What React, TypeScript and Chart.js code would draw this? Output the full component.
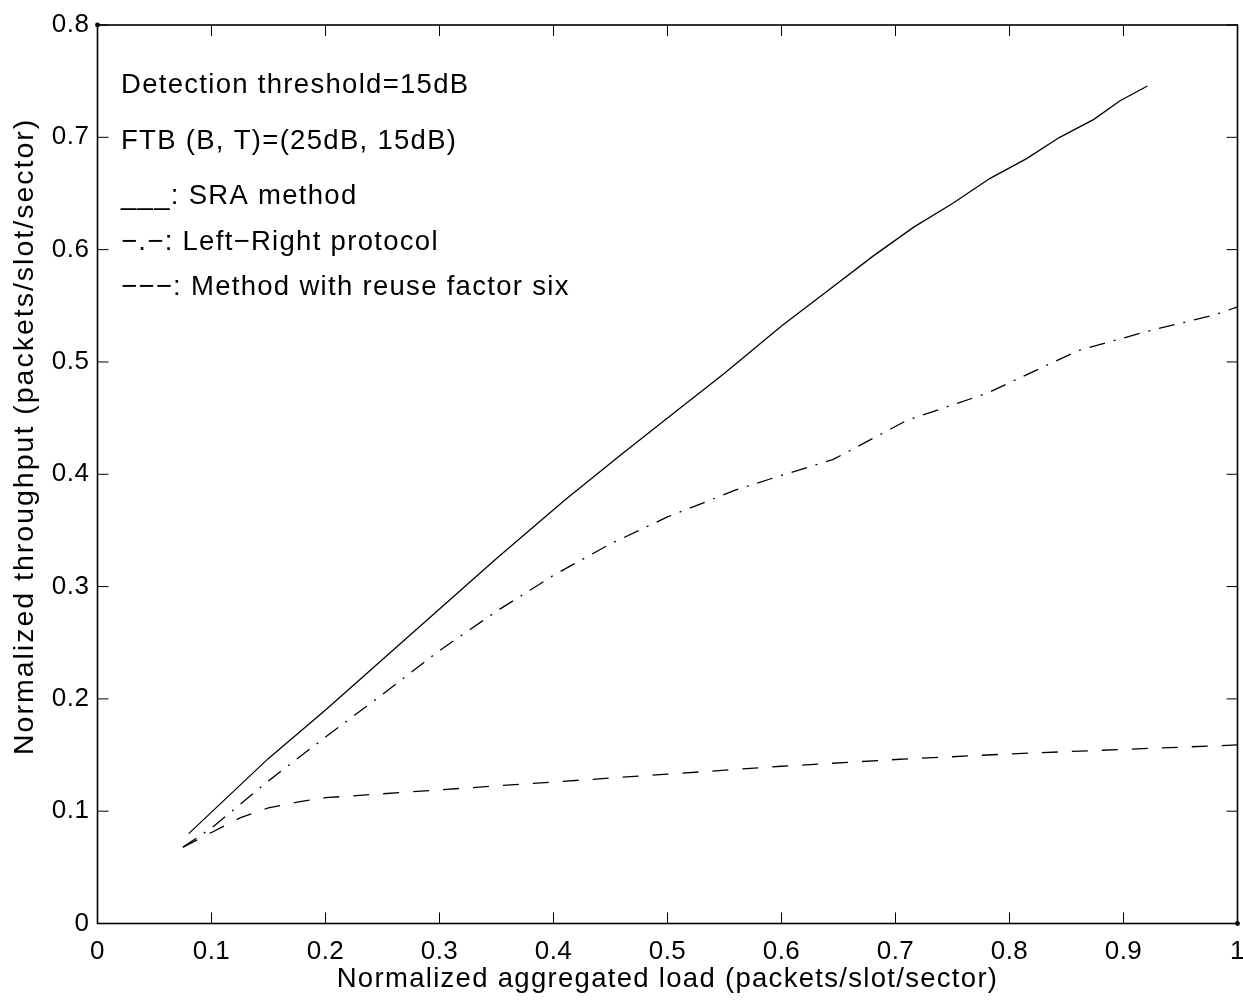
import React, { useEffect, useRef } from "react";
import { Chart, registerables } from "chart.js";

Chart.register(...registerables);

// ---------- data ----------
const xTickLabels = ["0", "0.1", "0.2", "0.3", "0.4", "0.5", "0.6", "0.7", "0.8", "0.9", "1"];
const yTickLabels = ["0", "0.1", "0.2", "0.3", "0.4", "0.5", "0.6", "0.7", "0.8"];

const xTitle = "Normalized aggregated load (packets/slot/sector)";
const yTitle = "Normalized throughput (packets/slot/sector)";

// SRA method (solid)
const sraX = [0.08, 0.15, 0.2, 0.25, 0.3, 0.35, 0.41, 0.46, 0.5, 0.55, 0.6, 0.64, 0.68, 0.716, 0.75, 0.783, 0.815, 0.844, 0.874, 0.897, 0.921];
const sraY = [0.08, 0.147, 0.19, 0.235, 0.28, 0.325, 0.377, 0.418, 0.45, 0.49, 0.532, 0.563, 0.594, 0.62, 0.641, 0.6635, 0.681, 0.7, 0.716, 0.7326, 0.7457];

// Left-Right protocol (dash-dot)
const lrX = [0.075, 0.1, 0.15, 0.2, 0.25, 0.3, 0.35, 0.4, 0.45, 0.5, 0.56, 0.6, 0.645, 0.71, 0.78, 0.86, 0.92, 0.98, 1.0];
const lrY = [0.068, 0.085, 0.127, 0.166, 0.204, 0.243, 0.278, 0.31, 0.338, 0.362, 0.386, 0.399, 0.413, 0.448, 0.472, 0.51, 0.527, 0.542, 0.549];

// Method with reuse factor six (dashed)
const reuseX = [0.075, 0.1, 0.125, 0.15, 0.175, 0.2, 0.3, 0.4, 0.5, 0.6, 0.7, 0.8, 0.9, 1.0];
const reuseY = [0.068, 0.081, 0.094, 0.103, 0.108, 0.112, 0.119, 0.126, 0.133, 0.14, 0.146, 0.151, 0.155, 0.159];

// in-plot text lines
const noteLines = [
  "Detection threshold=15dB",
  "FTB (B, T)=(25dB, 15dB)",
  "___: SRA method",
  "\u2212.\u2212: Left\u2212Right protocol",
  "\u2212\u2212\u2212: Method with reuse factor six",
];
const noteX = 0.0206;
const noteY = [0.7395, 0.6896, 0.6406, 0.5997, 0.5596];

// ---------- styling ----------
const FONT = "'Liberation Sans', Arial, Helvetica, sans-serif";
const W = 1243;
const H = 1002;
const SPACING = "1.3px";

const toPoints = (xs: number[], ys: number[]) => xs.map((x, i) => ({ x, y: ys[i] }));

const framePlugin = {
  id: "frame",
  beforeInit(chart: any) {
    chart.ctx.letterSpacing = "0.5px";
  },
  beforeDraw(chart: any) {
    const ctx = chart.ctx;
    ctx.letterSpacing = "0.5px";
    ctx.save();
    ctx.fillStyle = "#fff";
    ctx.fillRect(0, 0, chart.width, chart.height);
    ctx.restore();
  },
  beforeDatasetsDraw(chart: any) {
    chart.ctx.letterSpacing = SPACING;
  },
  afterDraw(chart: any) {
    const { ctx, chartArea } = chart;
    const { left, right, top, bottom } = chartArea;
    const xs = chart.scales.x;
    const ys = chart.scales.y;
    ctx.save();
    ctx.strokeStyle = "#000";
    ctx.fillStyle = "#000";
    // inward tick marks on all four sides
    ctx.lineWidth = 1;
    const tl = 11;
    ctx.beginPath();
    xs.ticks.forEach((t: any) => {
      const px = xs.getPixelForValue(t.value);
      ctx.moveTo(px, bottom);
      ctx.lineTo(px, bottom - tl);
      ctx.moveTo(px, top);
      ctx.lineTo(px, top + tl);
    });
    ys.ticks.forEach((t: any) => {
      const py = ys.getPixelForValue(t.value);
      ctx.moveTo(left, py);
      ctx.lineTo(left + tl, py);
      ctx.moveTo(right, py);
      ctx.lineTo(right - tl, py);
    });
    ctx.stroke();
    // box
    ctx.lineWidth = 1.6;
    ctx.strokeRect(left, top, right - left, bottom - top);
    // corner dots
    ctx.beginPath();
    ctx.arc(left, top, 2.4, 0, Math.PI * 2);
    ctx.fill();
    ctx.beginPath();
    ctx.arc(right, bottom, 2.4, 0, Math.PI * 2);
    ctx.fill();
    // notes
    ctx.letterSpacing = SPACING;
    ctx.font = `27.5px ${FONT}`;
    ctx.textAlign = "left";
    ctx.textBaseline = "alphabetic";
    noteLines.forEach((line, i) => {
      ctx.fillText(line, xs.getPixelForValue(noteX), ys.getPixelForValue(noteY[i]));
    });
    // x title
    ctx.font = `27.5px ${FONT}`;
    ctx.textAlign = "center";
    ctx.fillText(xTitle, (left + right) / 2, 987);
    // y title
    ctx.save();
    ctx.letterSpacing = "2px";
    ctx.font = `28.5px ${FONT}`;
    ctx.translate(33, 755);
    ctx.rotate(-Math.PI / 2);
    ctx.textAlign = "left";
    ctx.textBaseline = "alphabetic";
    ctx.fillText(yTitle, 0, 0);
    ctx.restore();
    ctx.restore();
  },
};

export default function App() {
  const ref = useRef<HTMLCanvasElement | null>(null);

  useEffect(() => {
    if (!ref.current) return;
    const xTickValues = xTickLabels.map(Number);
    const yTickValues = yTickLabels.map(Number);
    const chart = new Chart(ref.current, {
      type: "line",
      data: {
        datasets: [
          {
            label: "SRA method",
            data: toPoints(sraX, sraY),
            borderColor: "#000",
            borderWidth: 1.3,
            pointRadius: 0,
            fill: false,
            tension: 0,
          },
          {
            label: "Left-Right protocol",
            data: toPoints(lrX, lrY),
            borderColor: "#000",
            borderWidth: 1.3,
            borderDash: [16, 9, 2, 9],
            pointRadius: 0,
            fill: false,
            tension: 0,
          },
          {
            label: "Method with reuse factor six",
            data: toPoints(reuseX, reuseY),
            borderColor: "#000",
            borderWidth: 1.3,
            borderDash: [16, 14],
            pointRadius: 0,
            fill: false,
            tension: 0,
          },
        ],
      },
      options: {
        animation: false,
        responsive: false,
        devicePixelRatio: 1,
        events: [],
        layout: { padding: { left: 0, top: 25, right: 5.5, bottom: 0 } },
        plugins: {
          legend: { display: false },
          tooltip: { enabled: false },
        },
        scales: {
          x: {
            type: "linear",
            min: 0,
            max: 1,
            afterBuildTicks: (s: any) => {
              s.ticks = xTickValues.map((v) => ({ value: v }));
            },
            afterFit: (s: any) => {
              s.height = 78.5;
              s.paddingLeft = 0;
              s.paddingRight = 0;
            },
            ticks: {
              callback: (_v: any, i: number) => xTickLabels[i],
              font: { family: FONT, size: 26 },
              color: "#000",
              padding: 13,
              maxRotation: 0,
              autoSkip: false,
            },
            grid: { display: false, drawTicks: false },
            border: { display: false },
            title: { display: false, text: xTitle },
          },
          y: {
            type: "linear",
            min: 0,
            max: 0.8,
            afterBuildTicks: (s: any) => {
              s.ticks = yTickValues.map((v) => ({ value: v }));
            },
            afterFit: (s: any) => {
              s.width = 97.5;
              s.paddingTop = 0;
              s.paddingBottom = 0;
            },
            ticks: {
              callback: (_v: any, i: number) => yTickLabels[i],
              font: { family: FONT, size: 26 },
              color: "#000",
              padding: 8,
              autoSkip: false,
            },
            grid: { display: false, drawTicks: false },
            border: { display: false },
            title: { display: false, text: yTitle },
          },
        },
      },
      plugins: [framePlugin],
    } as any);
    return () => chart.destroy();
  }, []);

  return (
    <div style={{ position: "absolute", left: 0, top: 0, width: W, height: H, background: "#fff" }}>
      <canvas ref={ref} width={W} height={H} style={{ display: "block", width: W, height: H }} />
    </div>
  );
}
